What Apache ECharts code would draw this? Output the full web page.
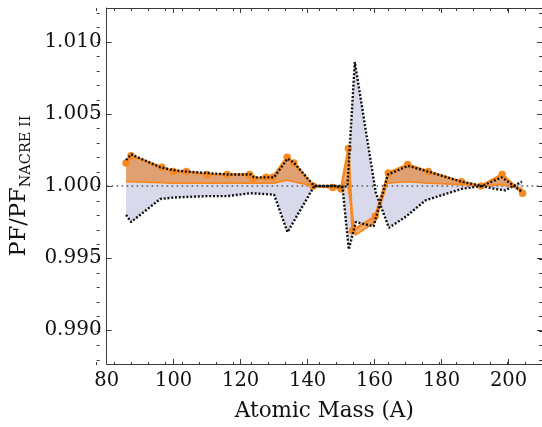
<!DOCTYPE html>
<html><head><meta charset="utf-8">
<script src="https://cdn.jsdelivr.net/npm/echarts@6/dist/echarts.min.js"></script>
<style>html,body{margin:0;padding:0;background:#fff}#c{width:542px;height:427px}</style>
</head><body><div id="c"></div>
<script>
// ---- data ----
const upperDottedX = [85.8, 87.3, 96, 100, 104, 110, 116, 123, 124, 128, 130, 134, 136, 142, 148, 150, 151.9, 154.1, 160.4, 164.3, 169.5, 175.2, 186, 192, 198, 204];
const upperDottedY = [1.0018, 1.0022, 1.0013, 1.0011, 1.0010, 1.0009, 1.0008, 1.0008, 1.0006, 1.0006, 1.0006, 1.0019, 1.0016, 1.0000, 1.0000, 0.9999, 1.0000, 1.0086, 0.9995, 0.9971, 0.9979, 0.9990, 0.9998, 1.0000, 1.0006, 0.9996];
const lowerDottedX = [85.8, 87.3, 96, 100, 110, 116, 123, 130, 134, 142, 148, 150.4, 152.3, 154.4, 159.7, 164, 170, 176, 186, 192, 196, 199, 204];
const lowerDottedY = [0.9980, 0.9975, 0.9991, 0.9992, 0.9993, 0.9993, 0.9995, 0.9994, 0.9968, 1.0000, 1.0000, 1.0000, 0.9956, 0.9975, 0.9972, 1.0008, 1.0014, 1.0010, 1.0003, 1.0000, 0.9998, 0.9997, 1.0003];
const upperOrangeX = [85.8, 87.3, 96.5, 99.9, 103.8, 110, 116, 122.7, 123.7, 127.6, 129.6, 133.9, 135.9, 141.7, 147.5, 150, 152.2, 153.4, 160.2, 164.1, 169.9, 176, 186, 191.8, 198.1, 204.2];
const upperOrangeY = [1.0016, 1.0021, 1.0013, 1.0010, 1.0010, 1.0008, 1.0008, 1.0008, 1.0005, 1.0006, 1.0006, 1.0020, 1.0016, 1.0000, 0.9999, 0.9998, 1.0026, 0.9969, 0.9979, 1.0009, 1.0015, 1.0010, 1.0003, 1.0000, 1.0008, 0.9995];
const lowerOrangeX = [85.8, 87.3, 100, 110, 123, 130, 133.9, 141.7, 147.5, 150, 151.8, 154.3, 160.2, 163.8, 169.9, 176, 186, 191.8, 198.1, 204.2];
const lowerOrangeY = [1.0003, 1.0003, 1.0002, 1.0002, 1.0002, 1.0002, 1.0004, 1.0000, 0.9999, 0.9998, 1.0004, 0.9966, 0.9975, 1.0002, 1.0003, 1.0002, 1.0001, 1.0000, 1.0001, 0.9998];
const xTickLabels = [80, 100, 120, 140, 160, 180, 200];
const yTickLabels = [0.990, 0.995, 1.000, 1.005, 1.010];
const referenceLevel = 1.0;

// ---- axis helpers ----
const X_MIN = 80, X_MAX = 210, Y_MIN = 0.98765, Y_MAX = 1.01235;
const xMinor = []; for (let v = 80; v <= 210; v += 5) xMinor.push(v);
const yMinor = []; for (let k = 988; k <= 1012; k++) yMinor.push(k / 1000);
const FONT = 'DejaVu Serif';
const FRAME = '#3a3a3a';
const pairs = (xs, ys) => xs.map((x, i) => [x, ys[i]]);

function band(xa, ya, xb, yb, color, z) {
  return {
    type: 'custom', coordinateSystem: 'cartesian2d', xAxisIndex: 0, yAxisIndex: 0, z: z, silent: true,
    data: [[xa[0], ya[0]]],
    renderItem: function (params, api) {
      const pts = [];
      for (let i = 0; i < xa.length; i++) pts.push(api.coord([xa[i], ya[i]]));
      for (let i = xb.length - 1; i >= 0; i--) pts.push(api.coord([xb[i], yb[i]]));
      return { type: 'polygon', shape: { points: pts }, style: { fill: color } };
    }
  };
}

function xAx(grid, pos, vals, len, showLine, labels) {
  const a = {
    type: 'value', gridIndex: grid, position: pos, min: X_MIN, max: X_MAX,
    axisLine: { show: showLine, lineStyle: { color: FRAME, width: 1 } },
    axisTick: { show: true, inside: true, length: len, customValues: vals, lineStyle: { color: FRAME, width: 1 } },
    axisLabel: { show: false }, splitLine: { show: false }
  };
  if (labels) {
    a.axisLabel = { show: true, customValues: xTickLabels, margin: 7, fontFamily: FONT, fontSize: 19.5, color: '#111' };
    a.name = 'Atomic Mass (A)';
    a.nameLocation = 'middle';
    a.nameGap = 36;
    a.nameTextStyle = { fontFamily: FONT, fontSize: 21.5, color: '#111' };
  }
  return a;
}
function yAx(grid, pos, vals, len, showLine, labels) {
  const a = {
    type: 'value', gridIndex: grid, position: pos, min: Y_MIN, max: Y_MAX,
    axisLine: { show: showLine, lineStyle: { color: FRAME, width: 1 } },
    axisTick: { show: true, inside: true, length: len, customValues: vals, lineStyle: { color: FRAME, width: 1 } },
    axisLabel: { show: false }, splitLine: { show: false }
  };
  if (labels) {
    a.axisLabel = { show: true, customValues: yTickLabels, margin: 5, fontFamily: FONT, fontSize: 20, color: '#111',
      formatter: v => Number(v).toFixed(3) };
    a.name = '{m|PF/PF}{s|NACRE II}';
    a.nameLocation = 'middle';
    a.nameGap = 62;
    a.nameTextStyle = { color: '#111', rich: {
      m: { fontFamily: FONT, fontSize: 22.5, lineHeight: 28, color: '#111' },
      s: { fontFamily: FONT, fontSize: 14.5, lineHeight: 14, verticalAlign: 'bottom', color: '#111' }
    } };
  }
  return a;
}

const gridBox = { left: 96.7, top: 8, right: 0, bottom: 62, containLabel: false };
const option = {
  animation: false,
  backgroundColor: '#ffffff',
  grid: [Object.assign({}, gridBox), Object.assign({}, gridBox)],
  xAxis: [
    xAx(0, 'bottom', xTickLabels, 5, true, true),
    xAx(0, 'top', xTickLabels, 5, true, false),
    xAx(1, 'bottom', xMinor, 3, false, false),
    xAx(1, 'top', xMinor, 3, false, false)
  ],
  yAxis: [
    yAx(0, 'left', yTickLabels, 5, true, true),
    yAx(0, 'right', yTickLabels, 5, false, false),
    yAx(1, 'left', yMinor, 3, false, false),
    yAx(1, 'right', yMinor, 3, false, false)
  ],
  series: [
    band(upperDottedX, upperDottedY, lowerDottedX, lowerDottedY, '#D9D9EC', 1),
    band(upperOrangeX, upperOrangeY, lowerOrangeX, lowerOrangeY, 'rgba(228,128,45,0.64)', 2),
    {
      type: 'line', xAxisIndex: 0, yAxisIndex: 0, z: 3, silent: true, symbol: 'none',
      data: [[X_MIN, referenceLevel], [X_MAX, referenceLevel]],
      lineStyle: { color: '#555', width: 1.5, type: [1.5, 3.5] }
    },
    {
      type: 'line', xAxisIndex: 0, yAxisIndex: 0, z: 4, silent: true, symbol: 'none',
      data: pairs(lowerOrangeX, lowerOrangeY),
      lineStyle: { color: '#F7891F', width: 1.8 }
    },
    {
      type: 'line', xAxisIndex: 0, yAxisIndex: 0, z: 5, silent: true, symbol: 'circle', symbolSize: 7.5,
      data: pairs(upperOrangeX, upperOrangeY),
      itemStyle: { color: '#F7891F' },
      lineStyle: { color: '#F7891F', width: 2.6 }
    },
    {
      type: 'line', xAxisIndex: 0, yAxisIndex: 0, z: 6, silent: true, symbol: 'none',
      data: pairs(upperDottedX, upperDottedY),
      lineStyle: { color: '#111', width: 2.4, type: [2, 1.8] }
    },
    {
      type: 'line', xAxisIndex: 0, yAxisIndex: 0, z: 6, silent: true, symbol: 'none',
      data: pairs(lowerDottedX, lowerDottedY),
      lineStyle: { color: '#111', width: 2.4, type: [2, 1.8] }
    }
  ]
};
const chart = echarts.init(document.getElementById('c'), null, { renderer: 'canvas' });
chart.setOption(option);
</script>
</body></html>
